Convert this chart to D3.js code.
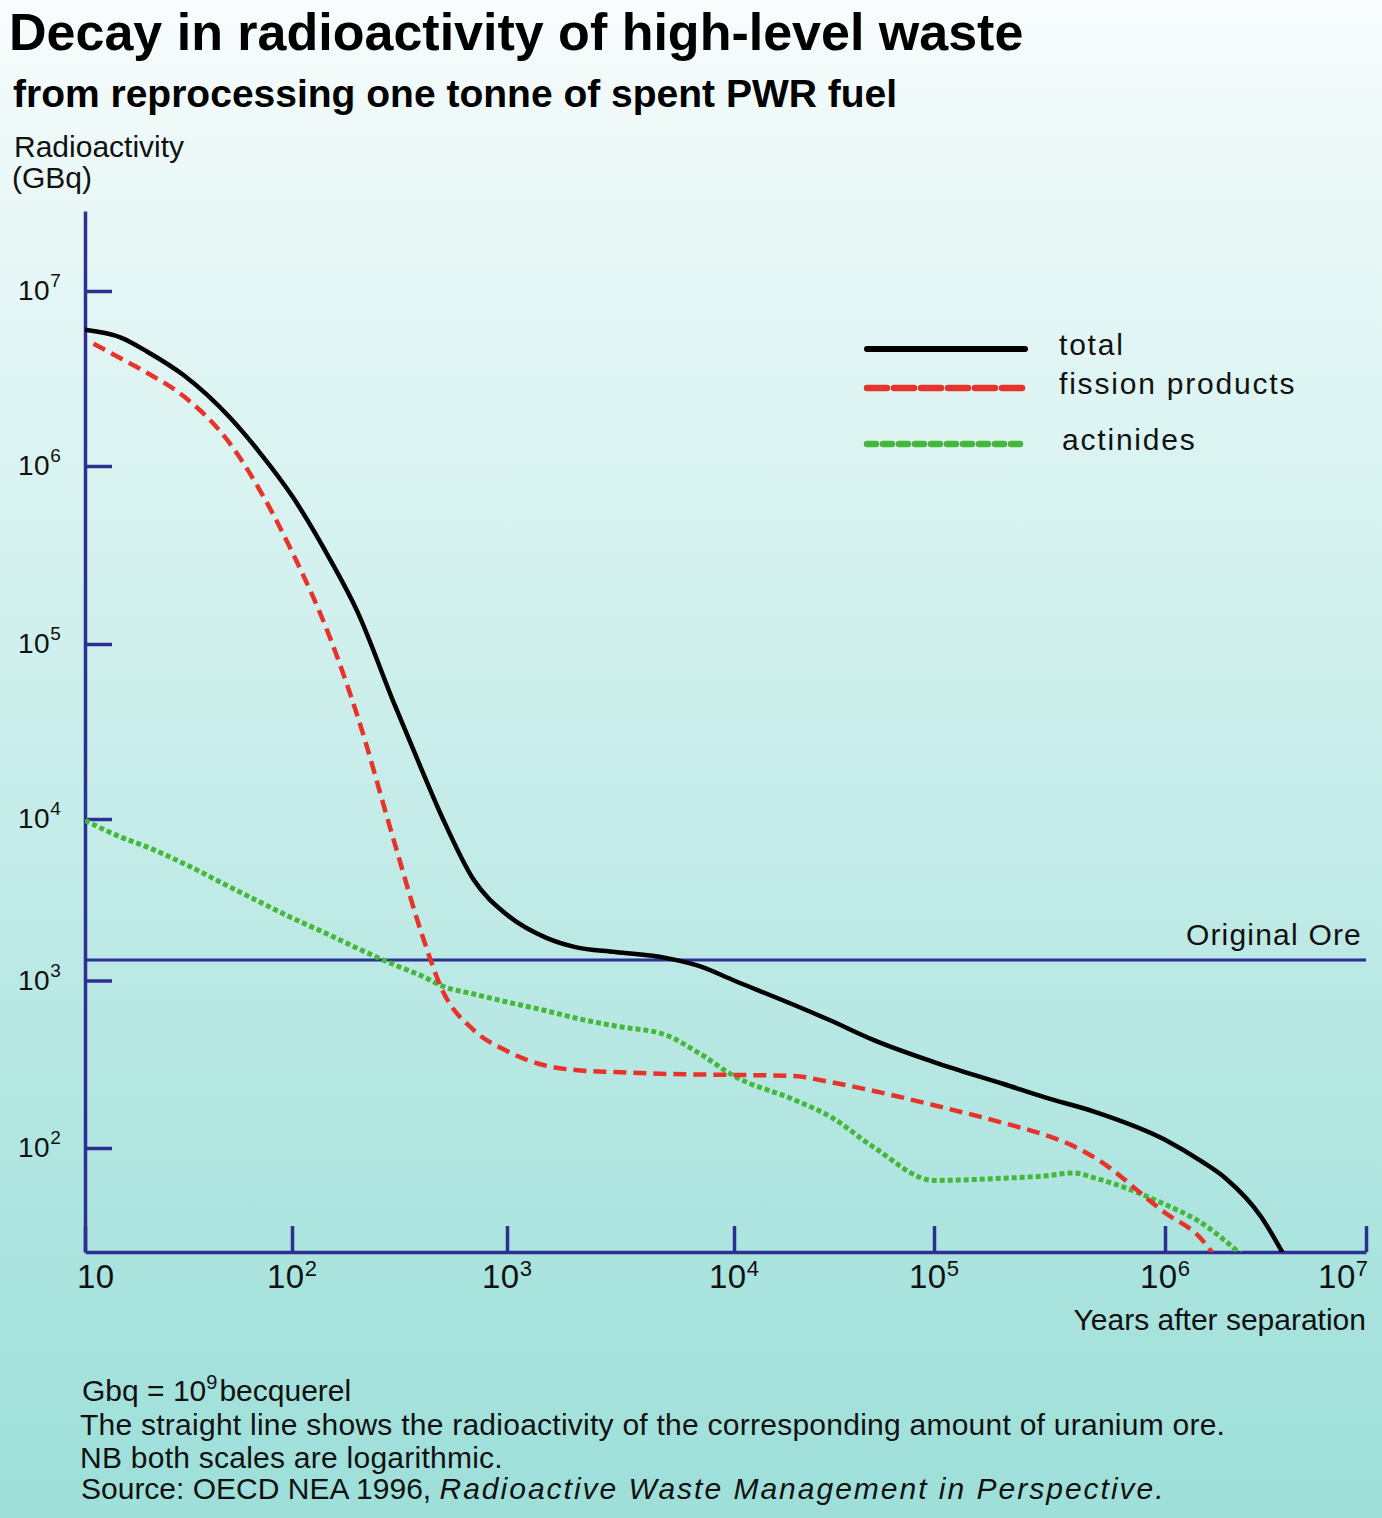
<!DOCTYPE html>
<html><head><meta charset="utf-8">
<script src="https://cdn.jsdelivr.net/npm/d3@7"></script>
<style>html,body{margin:0;padding:0;background:#fff;} svg{display:block;}</style>
</head><body>
<svg id="c" width="1382" height="1518"></svg>
<script>
// ---------- DATA ----------
const xTickValues = [10, 1e2, 1e3, 1e4, 1e5, 1e6, 1e7];
const xTickExponents = ["", "2", "3", "4", "5", "6", "7"];
const yTickValues = [1e7, 1e6, 1e5, 1e4, 1e3, 1e2];
const yTickExponents = ["7", "6", "5", "4", "3", "2"];

const totalYears  = [10, 15, 20, 30, 50, 70, 100, 150, 200, 300, 400, 500, 700, 1000, 1500, 2000, 3000, 5000, 7000, 1e4, 2e4, 3e4, 5e4, 1e5, 2e5, 3e5, 5e5, 1e6, 1.5e6, 2e6, 3e6, 3.9e6];
const totalValues = [6.0e6, 5.4e6, 4.5e6, 3.3e6, 1.9e6, 1.19e6, 6.8e5, 3.0e5, 1.55e5, 4.5e4, 1.93e4, 1.02e4, 4.2e3, 2.55e3, 1.83e3, 1.61e3, 1.5e3, 1.38e3, 1.23e3, 1.0e3, 714, 581, 441, 326, 241, 201, 164, 112, 84, 66, 39, 23];

const fissionYears  = [11, 15, 20, 30, 50, 70, 100, 150, 200, 300, 400, 500, 700, 1000, 1500, 2000, 3000, 5000, 1e4, 2e4, 3e4, 5e4, 1e5, 2e5, 3e5, 4e5, 5e5, 1e6, 1.5e6, 1.75e6];
const fissionValues = [5.0e6, 4.1e6, 3.4e6, 2.5e6, 1.35e6, 7.3e5, 3.3e5, 1.09e5, 4.0e4, 7.1e3, 1.97e3, 877, 506, 379, 309, 292, 284, 277, 273, 269, 248, 219, 180, 141, 120, 103, 87, 41, 29, 23];

const actinideYears  = [10, 15, 20, 30, 50, 70, 100, 150, 200, 300, 400, 500, 700, 1000, 1500, 2000, 3000, 5000, 7000, 1e4, 2e4, 3e4, 5e4, 1e5, 2e5, 3e5, 4e5, 5e5, 1e6, 1.5e6, 2.4e6];
const actinideValues = [9.8e3, 7.7e3, 6.7e3, 5.3e3, 3.8e3, 3.06e3, 2.44e3, 1.91e3, 1.59e3, 1.25e3, 1.07e3, 927, 830, 744, 658, 597, 535, 473, 369, 269, 194, 155, 101, 64, 66, 68, 71, 66, 46, 36, 23];

const originalOre = 1340;

const legendNames = ["total", "fission products", "actinides"];
const titleText = "Decay in radioactivity of high-level waste";
const subtitleText = "from reprocessing one tonne of spent PWR fuel";
const yLabelLines = ["Radioactivity", "(GBq)"];
const xLabelText = "Years after separation";
const oreLabel = "Original Ore";
const noteLines = [
  "The straight line shows the radioactivity of the corresponding amount of uranium ore.",
  "NB both scales are logarithmic."
];

// ---------- LAYOUT ----------
const W = 1382, H = 1518;
const FONT = "'Liberation Sans', Arial, Helvetica, sans-serif";
const axisColor = "#2d3091";
const colors = { total: "#000000", fission: "#e8332a", actinide: "#45b83a" };

// hand-drawn original: decades are not evenly spaced, so piecewise log scales
const xRange = [85, 292, 507, 734, 934, 1165, 1366];
const yDomainTop = 2.87e7, yDomainBottom = 23.9;
const yRange = [211, 291, 466, 644, 819, 980.5, 1148, 1252];

const x = d3.scaleLog().domain(xTickValues).range(xRange);
const y = d3.scaleLog().domain([yDomainTop, ...yTickValues, yDomainBottom]).range(yRange);

const svg = d3.select("#c");

// background gradient
const defs = svg.append("defs");
const grad = defs.append("linearGradient").attr("id", "bg").attr("x1", 0).attr("y1", 0).attr("x2", 0).attr("y2", 1);
[[0, "#f8fcfc"], [0.12, "#eaf8f7"], [0.35, "#d6f2f0"], [0.6, "#bfeae6"], [0.85, "#a9e3de"], [1, "#9edfd9"]]
  .forEach(([o, c]) => grad.append("stop").attr("offset", o).attr("stop-color", c));
svg.append("rect").attr("width", W).attr("height", H).attr("fill", "url(#bg)");

defs.append("clipPath").attr("id", "plotclip").append("rect")
  .attr("x", x(10)).attr("y", 0).attr("width", x(1e7) - x(10)).attr("height", y(yDomainBottom));

// titles
svg.append("text").attr("x", 9).attr("y", 50).attr("font-family", FONT).attr("font-weight", "bold")
  .attr("font-size", 52).attr("fill", "#000").text(titleText);
svg.append("text").attr("x", 13).attr("y", 107).attr("font-family", FONT).attr("font-weight", "bold")
  .attr("font-size", 39).attr("fill", "#000").text(subtitleText);
yLabelLines.forEach((t, i) => {
  svg.append("text").attr("x", i === 0 ? 14 : 12).attr("y", 157 + i * 31).attr("font-family", FONT)
    .attr("font-size", 30).attr("fill", "#111").text(t);
});

// axes
const gx = svg.append("g").attr("transform", `translate(0,${y(yDomainBottom)})`)
  .call(d3.axisBottom(x).tickValues(xTickValues).tickSizeInner(-26).tickSizeOuter(0).tickFormat(""));
const gy = svg.append("g").attr("transform", `translate(${x(10)},0)`)
  .call(d3.axisLeft(y).tickValues(yTickValues).tickSizeInner(-27).tickSizeOuter(0).tickFormat(""));
[gx, gy].forEach(g => {
  g.selectAll("path.domain").attr("stroke", axisColor).attr("stroke-width", 3.5);
  g.selectAll(".tick line").attr("stroke", axisColor).attr("stroke-width", 3.5);
});

// x tick labels
xTickValues.forEach((v, i) => {
  const last = i === xTickValues.length - 1;
  const first = i === 0;
  const t = svg.append("text")
    .attr("x", first ? x(v) - 8 : (last ? x(v) + 2 : x(v)))
    .attr("y", y(yDomainBottom) + 36)
    .attr("text-anchor", first ? "start" : (last ? "end" : "middle"))
    .attr("font-family", FONT).attr("fill", "#111");
  t.append("tspan").attr("font-size", 33).attr("letter-spacing", 0.5).text("10");
  if (xTickExponents[i]) t.append("tspan").attr("font-size", 22).attr("dy", -12).text(xTickExponents[i]);
});

// y tick labels
yTickValues.forEach((v, i) => {
  const t = svg.append("text").attr("x", 18).attr("y", y(v) + 9)
    .attr("font-family", FONT).attr("fill", "#111");
  t.append("tspan").attr("font-size", 28).attr("letter-spacing", 0.5).text("10");
  t.append("tspan").attr("font-size", 19).attr("dy", -13).text(yTickExponents[i]);
});

// x axis title
svg.append("text").attr("x", x(1e7)).attr("y", 1330).attr("text-anchor", "end")
  .attr("font-family", FONT).attr("font-size", 30).attr("fill", "#111").text(xLabelText);

// original ore line
svg.append("line").attr("x1", x(10)).attr("x2", x(1e7)).attr("y1", y(originalOre)).attr("y2", y(originalOre))
  .attr("stroke", axisColor).attr("stroke-width", 3);
svg.append("text").attr("x", x(1e7) - 4).attr("y", y(originalOre) - 15).attr("text-anchor", "end")
  .attr("font-family", FONT).attr("font-size", 30).attr("letter-spacing", 1.2).attr("fill", "#111").text(oreLabel);

// curves
const line = d3.line().x(d => x(d[0])).y(d => y(d[1])).curve(d3.curveMonotoneX);
const plot = svg.append("g").attr("clip-path", "url(#plotclip)");
const series = [
  { years: actinideYears, values: actinideValues, color: colors.actinide, width: 5, dash: "5,3" },
  { years: fissionYears, values: fissionValues, color: colors.fission, width: 4.5, dash: "13,7" },
  { years: totalYears, values: totalValues, color: colors.total, width: 4.5, dash: null }
];
series.forEach(s => {
  plot.append("path").datum(s.years.map((yr, i) => [yr, s.values[i]]))
    .attr("d", line).attr("fill", "none").attr("stroke", s.color).attr("stroke-width", s.width)
    .attr("stroke-dasharray", s.dash).attr("stroke-linejoin", "round");
});

// legend
const legendStyles = [
  { color: colors.total, width: 6, dash: null, y: 349, tx: 1059 },
  { color: colors.fission, width: 6.5, dash: "20,7", y: 388, tx: 1059 },
  { color: colors.actinide, width: 6.5, dash: "9,7", y: 444, tx: 1062 }
];
legendNames.forEach((name, i) => {
  const st = legendStyles[i];
  svg.append("line").attr("x1", 867).attr("x2", 1025).attr("y1", st.y).attr("y2", st.y)
    .attr("stroke", st.color).attr("stroke-width", st.width).attr("stroke-dasharray", st.dash)
    .attr("stroke-linecap", "round");
  svg.append("text").attr("x", st.tx).attr("y", st.y + 6).attr("font-family", FONT)
    .attr("font-size", 30).attr("letter-spacing", 1.8).attr("fill", "#111").text(name);
});

// footnotes
const n1 = svg.append("text").attr("x", 82).attr("y", 1401).attr("font-family", FONT)
  .attr("font-size", 30).attr("fill", "#111");
n1.append("tspan").text("Gbq = 10");
n1.append("tspan").attr("font-size", 20).attr("dy", -12).text("9");
n1.append("tspan").attr("dy", 12).attr("dx", 2).text("becquerel");
noteLines.forEach((t, i) => {
  svg.append("text").attr("x", 80).attr("y", 1435 + i * 33).attr("font-family", FONT)
    .attr("font-size", 30).attr("letter-spacing", 0.25).attr("fill", "#111").text(t);
});
const n4 = svg.append("text").attr("x", 81).attr("y", 1499).attr("font-family", FONT)
  .attr("font-size", 30).attr("fill", "#111");
n4.append("tspan").text("Source:  OECD NEA 1996, ");
n4.append("tspan").attr("font-style", "italic").attr("letter-spacing", 2).text("Radioactive Waste Management in Perspective.");
</script>
</body></html>
